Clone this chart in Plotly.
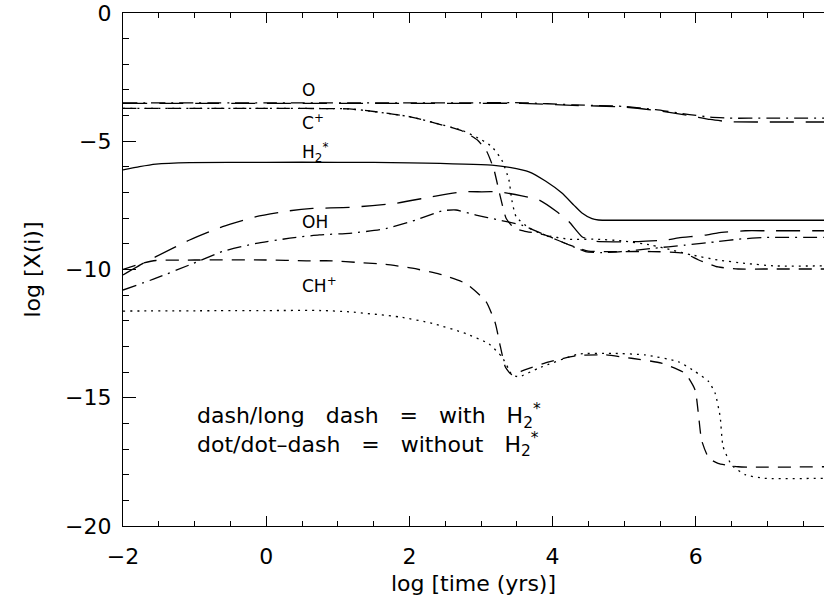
import plotly.graph_objects as go

# ---------------- data ----------------
h2_x = [-2, -1.77, -1.54, -1.07, 0, 1, 2, 3.15, 3.4, 3.67, 3.9, 4.13, 4.3, 4.41, 4.55, 4.64, 5, 6, 7, 7.79]
h2_y = [-6.12, -5.99, -5.89, -5.83, -5.82, -5.82, -5.84, -5.93, -6.02, -6.19, -6.55, -7.02, -7.5, -7.8, -8.02, -8.07, -8.08, -8.08, -8.08, -8.08]

o_with_x = [-2, 0, 2, 3, 3.58, 4.28, 4.98, 5.44, 5.91, 6.2, 6.47, 7, 7.79]
o_with_y = [-3.52, -3.52, -3.52, -3.52, -3.52, -3.6, -3.66, -3.8, -4.0, -4.15, -4.24, -4.25, -4.25]
o_wo_x = [-2, 0, 2, 3, 3.58, 4.28, 4.98, 5.44, 5.91, 6.2, 6.47, 7, 7.79]
o_wo_y = [-3.5, -3.5, -3.5, -3.5, -3.5, -3.58, -3.64, -3.77, -3.96, -4.06, -4.1, -4.1, -4.1]

cp_with_x = [-2, 0, 1.16, 1.53, 2.0, 2.37, 2.74, 2.95, 3.08, 3.18, 3.26, 3.35, 3.46, 3.6, 3.9, 4.23, 4.5, 4.92, 5.38, 5.83, 6.04, 6.31, 6.59, 7, 7.79]
cp_with_y = [-3.72, -3.72, -3.74, -3.85, -4.04, -4.3, -4.6, -4.95, -5.4, -6.1, -7.05, -8.0, -8.38, -8.5, -8.66, -9.04, -9.28, -9.3, -9.3, -9.36, -9.63, -9.9, -9.98, -9.98, -9.98]
cp_wo_x = [-2, 0, 1.16, 1.53, 2.0, 2.37, 2.74, 3.01, 3.15, 3.29, 3.39, 3.43, 3.49, 3.67, 3.9, 4.23, 4.6, 4.96, 5.38, 5.66, 5.94, 6.31, 6.69, 7.1, 7.79]
cp_wo_y = [-3.72, -3.72, -3.74, -3.85, -4.04, -4.3, -4.58, -4.95, -5.21, -5.73, -6.51, -7.29, -7.94, -8.38, -8.66, -8.82, -8.82, -8.88, -9.05, -9.24, -9.43, -9.63, -9.76, -9.86, -9.86]

oh_with_x = [-2, -1.72, -1.54, -1.07, -0.61, -0.14, 0.33, 0.65, 1.16, 1.81, 2.32, 2.74, 3.01, 3.25, 3.57, 3.81, 4.06, 4.23, 4.41, 4.6, 5.2, 5.58, 5.76, 6.13, 6.31, 6.69, 7.0, 7.79]
oh_with_y = [-10.21, -9.76, -9.5, -8.85, -8.33, -7.94, -7.71, -7.62, -7.58, -7.42, -7.16, -6.97, -6.97, -6.97, -7.13, -7.29, -7.75, -8.14, -8.72, -8.9, -8.91, -8.85, -8.77, -8.66, -8.57, -8.49, -8.49, -8.49]
oh_wo_x = [-2, -1.54, -1.07, -0.61, -0.14, 0.33, 0.74, 1.16, 1.63, 2.09, 2.46, 2.65, 2.93, 3.25, 3.57, 3.9, 4.23, 4.46, 4.69, 4.96, 5.38, 5.85, 6.31, 6.59, 6.97, 7.79]
oh_wo_y = [-10.8, -10.34, -9.82, -9.3, -8.98, -8.78, -8.65, -8.59, -8.43, -8.07, -7.71, -7.68, -7.88, -8.07, -8.27, -8.66, -9.04, -9.3, -9.34, -9.3, -9.18, -9.05, -8.91, -8.82, -8.75, -8.75]

chp_with_x = [-2, -1.72, -1.54, -1, 0, 0.56, 0.92, 1.3, 1.67, 2.04, 2.42, 2.79, 3.07, 3.2, 3.27, 3.34, 3.43, 3.62, 3.95, 4.36, 4.74, 5.1, 5.52, 5.85, 5.99, 6.04, 6.08, 6.18, 6.31, 6.59, 7.79]
chp_with_y = [-10.0, -9.75, -9.65, -9.63, -9.63, -9.66, -9.66, -9.73, -9.8, -9.95, -10.18, -10.55, -11.25, -12.1, -13.0, -13.8, -14.1, -13.9, -13.6, -13.35, -13.33, -13.46, -13.65, -14.05, -14.7, -15.74, -16.65, -17.35, -17.56, -17.69, -17.69]
chp_wo_x = [-2, 0, 0.77, 1.16, 1.86, 2.32, 2.79, 3.11, 3.29, 3.38, 3.43, 3.53, 3.8, 4.36, 4.83, 5.29, 5.76, 5.99, 6.18, 6.27, 6.34, 6.38, 6.5, 6.69, 6.96, 7.79]
chp_wo_y = [-11.62, -11.6, -11.6, -11.65, -11.85, -12.1, -12.5, -12.9, -13.4, -13.85, -14.1, -14.18, -13.85, -13.3, -13.27, -13.33, -13.6, -13.98, -14.37, -14.83, -15.74, -16.9, -17.62, -18.0, -18.14, -18.14]

species_labels = ["O", "C<sup>+</sup>", "H<sub>2</sub><sup>*</sup>", "OH", "CH<sup>+</sup>"]
label_x = [0.47, 0.47, 0.47, 0.47, 0.47]
label_y = [-3.0, -4.25, -5.42, -8.15, -10.6]

SP = "\u00a0\u00a0\u00a0"
legend_lines = [
    "dash/long" + SP + "dash" + SP + "=" + SP + "with" + SP + "H<sub>2</sub><sup>*</sup>",
    "dot/dot\u2013dash" + SP + "=" + SP + "without" + SP + "H<sub>2</sub><sup>*</sup>",
]
legend_pos = (-0.99, -16.25)

x_ticks = [-2, 0, 2, 4, 6]
y_ticks = [0, -5, -10, -15, -20]

# ---------------- styles ----------------
DASH = "13px,9px"
LONGDASH = "24px,12px"
DOT = "2px,5px"
DOTDASH = "14px,6px,2px,6px"
LW = 1.3
FONT = "DejaVu Sans"

curves = [
    (h2_x, h2_y, "solid", "H2* (with)"),
    (o_with_x, o_with_y, LONGDASH, "O with"),
    (o_wo_x, o_wo_y, DOTDASH, "O without"),
    (cp_with_x, cp_with_y, DASH, "C+ with"),
    (cp_wo_x, cp_wo_y, DOT, "C+ without"),
    (oh_with_x, oh_with_y, LONGDASH, "OH with"),
    (oh_wo_x, oh_wo_y, DOTDASH, "OH without"),
    (chp_with_x, chp_with_y, DASH, "CH+ with"),
    (chp_wo_x, chp_wo_y, DOT, "CH+ without"),
]

fig = go.Figure()
for xs, ys, dash, name in curves:
    fig.add_trace(go.Scatter(
        x=xs, y=ys, mode="lines", name=name,
        line=dict(color="black", width=LW, dash=dash, shape="spline", smoothing=0.5),
        showlegend=False, hoverinfo="skip",
    ))

for t, lx, ly in zip(species_labels, label_x, label_y):
    fig.add_annotation(x=lx, y=ly, text=t, showarrow=False, xanchor="left",
                       yanchor="middle", font=dict(family=FONT, size=17, color="black"))

fig.add_annotation(x=legend_pos[0], y=legend_pos[1], xanchor="left", yanchor="middle",
                   showarrow=False, align="left", text="<br>".join(legend_lines),
                   font=dict(family=FONT, size=22, color="black"))

axis_common = dict(
    showline=True, linecolor="black", linewidth=1.3,
    ticks="inside", tickcolor="black", tickwidth=1.2,
    showgrid=False, zeroline=False,
    tickfont=dict(family=FONT, size=22, color="black"),
)

fig.update_xaxes(
    range=[-2, 7.79], tickvals=x_ticks, ticklen=10, mirror="ticks",
    minor=dict(dtick=0.5, ticks="inside", ticklen=5, tickcolor="black", tickwidth=1.1, showgrid=False),
    title=dict(text="log [time (yrs)]", font=dict(family=FONT, size=22, color="black"), standoff=8),
    ticklabelstandoff=10,
    **axis_common,
)
fig.update_yaxes(
    range=[-20, 0], tickvals=y_ticks, ticklen=13, mirror=False,
    minor=dict(dtick=1, ticks="inside", ticklen=6, tickcolor="black", tickwidth=1.1, showgrid=False),
    title=dict(text="log [X(i)]", font=dict(family=FONT, size=22, color="black"), standoff=18),
    ticklabelstandoff=6,
    **axis_common,
)

fig.update_layout(
    width=824, height=598,
    margin=dict(l=123, r=0, t=13, b=72),
    paper_bgcolor="white", plot_bgcolor="white",
    showlegend=False,
)

fig.write_html("out.html")
